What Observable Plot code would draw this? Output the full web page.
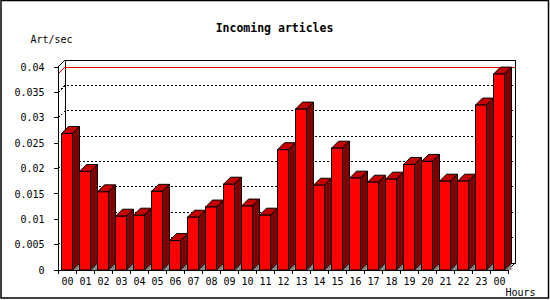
<!DOCTYPE html>
<html><head><meta charset="utf-8">
<script src="https://cdn.jsdelivr.net/npm/d3@7"></script>
<script src="https://cdn.jsdelivr.net/npm/@observablehq/plot@0.6"></script>
<style>body{margin:0;background:#fff}</style>
</head><body><div id="chart"></div>
<script>
const hours = ["00","01","02","03","04","05","06","07","08","09","10","11","12","13","14","15","16","17","18","19","20","21","22","23","00"];
const rates = [0.0269, 0.0194, 0.0154, 0.0106, 0.0108, 0.0155, 0.0058, 0.0104, 0.0124, 0.0169, 0.0126, 0.0108, 0.0237, 0.0317, 0.0167, 0.0240, 0.0181, 0.0173, 0.0179, 0.0208, 0.0214, 0.0175, 0.0175, 0.0325, 0.0386];
const yTicks = [0, 0.005, 0.01, 0.015, 0.02, 0.025, 0.03, 0.035, 0.04];
const yTickLabels = ["0", "0.005", "0.01", "0.015", "0.02", "0.025", "0.03", "0.035", "0.04"];
const title = "Incoming articles";
const yLabel = "Art/sec";
const xLabel = "Hours";

const rows = rates.map((v, i) => ({i, hour: hours[i], rate: v}));
const maxRate = d3.max(rates);
const DX = 7, DY = 7;
const FONT = "'DejaVu Sans Mono', 'Liberation Mono', monospace";

function backWall(index, {x, y}) {
  const g = d3.create("svg:g").attr("shape-rendering", "crispEdges").attr("fill", "none");
  const xl = x(0), xr = x(rows.length - 1) + (x(1) - x(0));
  const y0 = y(0), yt = y(yTicks[yTicks.length - 1]);
  g.append("rect").attr("x", xl + DX).attr("y", yt - DY).attr("width", xr - xl).attr("height", y0 - yt)
    .attr("fill", "#fff").attr("stroke", "#000");
  for (const t of yTicks.slice(1, -1)) {
    const yy = y(t);
    g.append("path").attr("d", `M${xl},${yy}L${xl + DX},${yy - DY}L${xr + DX},${yy - DY}`)
      .attr("stroke", "#000").attr("stroke-dasharray", "2,2");
  }
  const ym = y(maxRate);
  g.append("path").attr("d", `M${xl},${ym}L${xl + DX},${ym - DY}L${xr + DX},${ym - DY}`).attr("stroke", "#e00000");
  g.append("path").attr("d", `M${xl},${yt}L${xl + DX},${yt - DY}`).attr("stroke", "#000");
  g.append("path").attr("d", `M${xr},${y0}L${xr + DX},${y0 - DY}`).attr("stroke", "#000");
  return g.node();
}

function bars3d(index, {x, y}) {
  const g = d3.create("svg:g").attr("stroke", "#000").attr("stroke-linejoin", "miter");
  const y0 = y(0);
  for (const r of rows) {
    const x1 = x(r.i) + 3.5 + 11;
    g.append("path").attr("d", `M${x1},${y0}L${x1 + DX},${y0 - DY}L${x1 + DX},${y0}Z`)
      .attr("fill", "#888").attr("stroke", "none");
  }
  for (const r of rows) {
    const x0 = x(r.i) + 3.5, x1 = x0 + 11, yt = y(r.rate);
    g.append("path").attr("d", `M${x0},${yt}L${x0 + DX},${yt - DY}L${x1 + DX},${yt - DY}L${x1},${yt}Z`).attr("fill", "#c40000");
    g.append("path").attr("d", `M${x1},${yt}L${x1 + DX},${yt - DY}L${x1 + DX},${y0 - DY}L${x1},${y0}Z`).attr("fill", "#800000");
    g.append("rect").attr("x", x0).attr("y", yt).attr("width", x1 - x0).attr("height", y0 - yt).attr("fill", "#ff0000");
  }
  return g.node();
}

function axes(index, {x, y}) {
  const g = d3.create("svg:g").attr("shape-rendering", "crispEdges").attr("stroke", "#000").attr("fill", "none");
  const bw = x(1) - x(0);
  const xl = x(0), xr = x(rows.length - 1) + bw;
  const y0 = y(0), yt = y(yTicks[yTicks.length - 1]);
  g.append("path").attr("d", `M${xl},${yt}L${xl},${y0}L${xr},${y0}`);
  for (const t of yTicks) g.append("path").attr("d", `M${xl - 4},${y(t)}L${xl},${y(t)}`);
  for (let i = 0; i <= rows.length; i++) {
    const xx = xl + i * bw;
    g.append("path").attr("d", `M${xx},${y0}L${xx},${y0 + 4}`);
  }
  return g.node();
}

function border(index, scales, values, dims) {
  const g = d3.create("svg:g").attr("fill", "none").attr("stroke", "#000");
  g.append("rect").attr("x", 1).attr("y", 0.5).attr("width", dims.width - 2.5).attr("height", dims.height - 2.5).attr("stroke-width", 1.5);
  return g.node();
}

const chart = Plot.plot({
  width: 550,
  height: 300,
  marginLeft: 53,
  marginRight: 37,
  marginTop: 67,
  marginBottom: 30,
  x: {type: "band", domain: d3.range(rows.length), padding: 0, axis: null},
  y: {domain: [0, 0.04], axis: null},
  style: {fontFamily: FONT, background: "#fff"},
  marks: [
    backWall,
    bars3d,
    axes,
    Plot.text(yTicks, {y: d => d, text: (d, i) => yTickLabels[i], frameAnchor: "left", lineAnchor: "middle", dx: -9, textAnchor: "end", fontSize: 10, fill: "#000"}),
    Plot.text(rows, {x: "i", text: "hour", frameAnchor: "bottom", lineAnchor: "middle", dy: 11, fontSize: 10, fill: "#000"}),
    Plot.text([title], {text: d => d, frameAnchor: "top", lineAnchor: "middle", dx: -9, dy: -39, fontSize: 11.5, fontWeight: "bold", fill: "#000"}),
    Plot.text([yLabel], {text: d => d, frameAnchor: "top-left", lineAnchor: "middle", dx: -23, dy: -28, textAnchor: "start", fontSize: 10, fill: "#000"}),
    Plot.text([xLabel], {text: d => d, frameAnchor: "bottom-right", lineAnchor: "middle", dx: -8, dy: 22, textAnchor: "start", fontSize: 10, fill: "#000"}),
    border
  ]
});
document.getElementById("chart").appendChild(chart);
</script>
</body></html>
